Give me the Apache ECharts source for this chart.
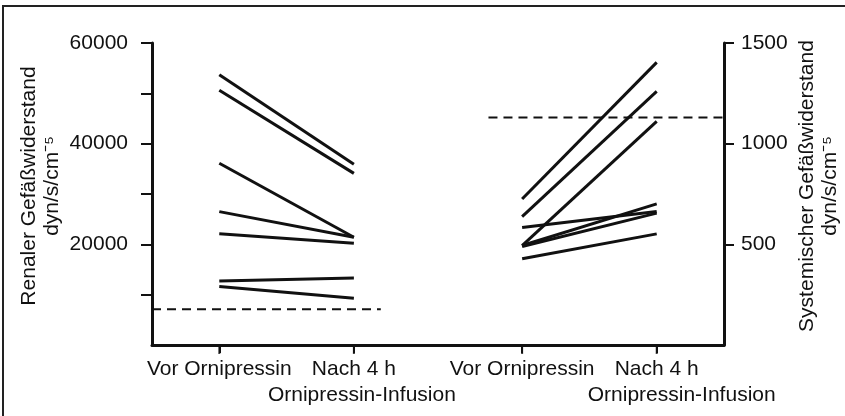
<!DOCTYPE html>
<html>
<head>
<meta charset="utf-8">
<script src="https://cdn.jsdelivr.net/npm/echarts@6/dist/echarts.min.js"></script>
<style>
  html, body { margin: 0; padding: 0; background: #fff; }
  #chart { width: 845px; height: 416px; }
</style>
</head>
<body>
<div id="chart"></div>
<script>
// ---- Data ----
const xPositions = [1, 3, 5.5, 7.5];
const xLabels = ['Vor Ornipressin', 'Nach 4 h', 'Vor Ornipressin', 'Nach 4 h'];
const xSubPositions = [3, 7.5];
const xSubLabel = 'Ornipressin-Infusion';
const renalBefore = [53700, 50600, 36100, 26500, 22100, 12700, 11600];
const renalAfter  = [35900, 34100, 21400, 21400, 20200, 13300, 9300];
const systBefore  = [725, 638, 494, 584, 494, 489, 428];
const systAfter   = [1404, 1260, 1111, 663, 701, 655, 552];
const renalNormal = 7100;
const systNormal  = 1130;
const renalNormalSpan = [0, 3.4];
const systNormalSpan  = [5.0, 8.5];
const renalTicks = [20000, 40000, 60000];
const renalMinorTicks = [10000, 20000, 30000, 40000, 50000, 60000];
const systTicks  = [500, 1000, 1500];

const FONT = '"Liberation Sans", Arial, Helvetica, sans-serif';
const INK = '#111';

const series = [];
renalBefore.forEach((v, i) => {
  series.push({
    type: 'line', xAxisIndex: 0, yAxisIndex: 0, symbol: 'none',
    lineStyle: { color: INK, width: 3 },
    data: [[xPositions[0], v], [xPositions[1], renalAfter[i]]]
  });
});
systBefore.forEach((v, i) => {
  series.push({
    type: 'line', xAxisIndex: 0, yAxisIndex: 1, symbol: 'none',
    lineStyle: { color: INK, width: 3 },
    data: [[xPositions[2], v], [xPositions[3], systAfter[i]]]
  });
});
series.push({
  type: 'line', xAxisIndex: 0, yAxisIndex: 0, symbol: 'none',
  lineStyle: { color: INK, width: 2, type: [9, 6] },
  data: [[renalNormalSpan[0], renalNormal], [renalNormalSpan[1], renalNormal]]
});
series.push({
  type: 'line', xAxisIndex: 0, yAxisIndex: 1, symbol: 'none',
  lineStyle: { color: INK, width: 2, type: [9, 6] },
  data: [[systNormalSpan[0], systNormal], [systNormalSpan[1], systNormal]]
});
// x-axis tick marks at the category positions (drawn through the axis scale)
series.push({
  type: 'scatter', xAxisIndex: 0, yAxisIndex: 0, silent: true, clip: false,
  symbol: 'rect', symbolSize: [2, 8], symbolOffset: [0, 5],
  itemStyle: { color: INK }, z: 5,
  data: xPositions.map(x => [x, 0])
});

const chart = echarts.init(document.getElementById('chart'), null, { renderer: 'canvas' });
chart.setOption({
  animation: false,
  backgroundColor: '#fff',
  textStyle: { fontFamily: FONT, color: INK },
  grid: { left: 152, right: 121, top: 43, bottom: 71, outerBoundsMode: 'none', containLabel: false },
  graphic: [{
    type: 'polyline',
    shape: { points: [[3, 416], [3, 6], [845, 6]] },
    style: { stroke: '#222', lineWidth: 2, fill: null }
  }],
  xAxis: [{
    type: 'value', min: 0, max: 8.5, position: 'bottom',
    axisLine: { show: true, onZero: false, lineStyle: { color: INK, width: 3 } },
    axisTick: { show: true, inside: false, length: 8, lineStyle: { color: INK, width: 2 }, customValues: xPositions },
    splitLine: { show: false },
    axisLabel: {
      customValues: xPositions, hideOverlap: false,
      margin: 14,
      fontSize: 21, color: INK, fontFamily: FONT,
      formatter: function (v) {
        const idx = xPositions.indexOf(v);
        return idx < 0 ? '' : xLabels[idx];
      }
    }
  }, {
    type: 'value', min: 0, max: 8.5, position: 'bottom',
    axisLine: { show: false, onZero: false },
    axisTick: { show: false },
    splitLine: { show: false },
    axisLabel: {
      customValues: xSubPositions, hideOverlap: false,
      margin: 40,
      fontSize: 21, color: INK, fontFamily: FONT,
      formatter: function (v) {
        const idx = xSubPositions.indexOf(v);
        if (idx < 0) return '';
        return '{' + (idx === 0 ? 'b' : 'c') + '|' + xSubLabel + '}';
      },
      rich: {
        b: { fontSize: 21, fontFamily: FONT, color: INK, padding: [0, 0, 0, 16] },
        c: { fontSize: 21, fontFamily: FONT, color: INK, padding: [0, 0, 0, 50] }
      }
    }
  }],
  yAxis: [{
    type: 'value', position: 'left', min: 0, max: 60000, interval: 10000,
    name: 'Renaler Gefäßwiderstand\ndyn/s/cm⁻⁵',
    nameLocation: 'middle', nameRotate: 90, nameGap: 88, nameMoveOverlap: false,
    nameTextStyle: { fontSize: 21, fontFamily: FONT, color: INK, lineHeight: 23, padding: [0, 0, 0, 16] },
    axisLine: { show: true, onZero: false, lineStyle: { color: INK, width: 3 } },
    axisTick: { show: true, length: 11, lineStyle: { color: INK, width: 2 }, customValues: renalMinorTicks },
    splitLine: { show: false },
    axisLabel: {
      customValues: renalTicks,
      margin: 24, fontSize: 21, fontFamily: FONT, color: INK,
      formatter: v => String(v)
    }
  }, {
    type: 'value', position: 'right', min: 0, max: 1500, interval: 500,
    name: 'Systemischer Gefäßwiderstand\ndyn/s/cm⁻⁵',
    nameLocation: 'middle', nameRotate: 90, nameGap: 72, nameMoveOverlap: false,
    nameTextStyle: { fontSize: 21, fontFamily: FONT, color: INK, lineHeight: 23, padding: [0, 0, 0, 16] },
    axisLine: { show: true, onZero: false, lineStyle: { color: INK, width: 3 } },
    axisTick: { show: true, length: 10, lineStyle: { color: INK, width: 2 }, customValues: systTicks },
    splitLine: { show: false },
    axisLabel: {
      customValues: systTicks,
      margin: 17, fontSize: 21, fontFamily: FONT, color: INK,
      formatter: v => String(v)
    }
  }],
  series: series
});
</script>
</body>
</html>
